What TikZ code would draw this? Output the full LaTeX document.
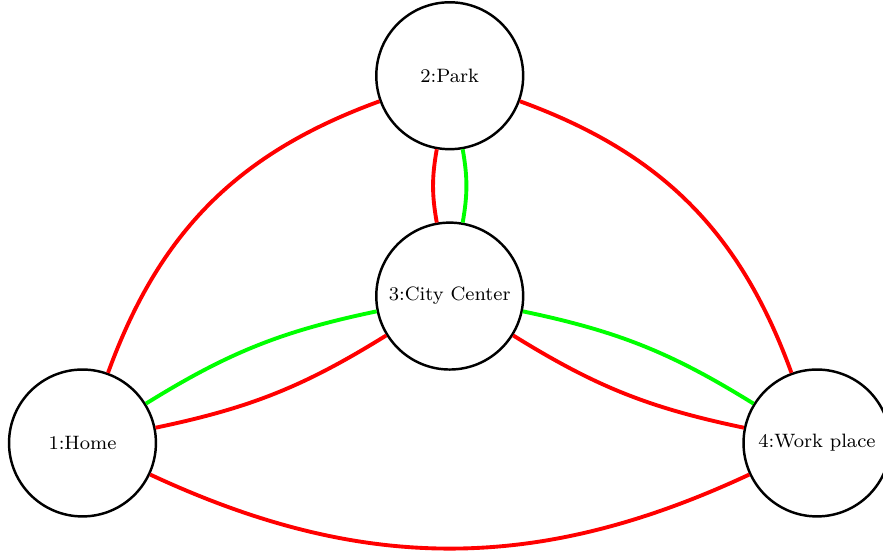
\documentclass[tikz,border=0pt]{standalone}
\begin{document}
\begin{tikzpicture}[
  place/.style={circle, draw=black, line width=0.95pt, fill=white, minimum size=2cm, inner sep=0pt, font=\fontsize{7.5}{9}\selectfont},
  redline/.style={draw=red, line width=1.5pt},
  greenline/.style={draw=green, line width=1.5pt}
]
\useasboundingbox (-1.123,-1.525) rectangle (10.899,6.031);
\node[place] (home) at (0,0) {1:Home};
\node[place] (park) at (5,5) {2:Park};
\node[place] (city) at (5,2) {3:City Center};
\node[place] (work) at (10,0) {4:Work place};
\draw[redline] (home) to[bend left=25] (park);
\draw[redline] (park) to[bend left=25] (work);
\draw[redline] (home) to[bend right=25] (work);
\draw[redline] (park) to[bend right=10] (city);
\draw[greenline] (park) to[bend left=10] (city);
\draw[greenline] (home) to[bend left=10] (city);
\draw[redline] (home) to[bend right=10] (city);
\draw[greenline] (city) to[bend left=10] (work);
\draw[redline] (city) to[bend right=10] (work);
\end{tikzpicture}
\end{document}
